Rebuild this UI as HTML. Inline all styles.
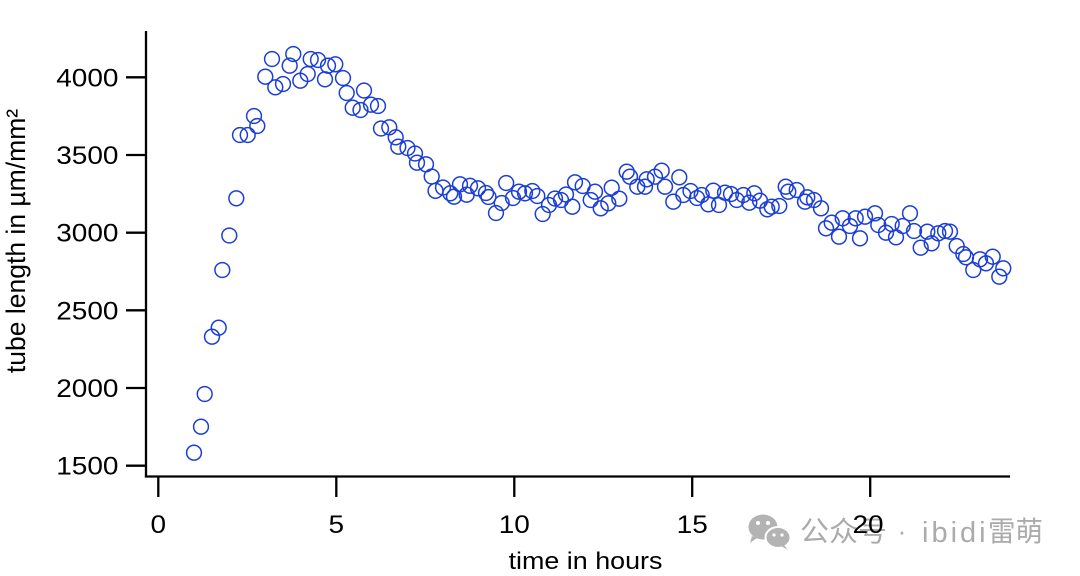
<!DOCTYPE html>
<html>
<head>
<meta charset="utf-8">
<style>
html,body{margin:0;padding:0;background:#fff;}
svg{display:block;}
text{font-family:"Liberation Sans",Arial,sans-serif;fill:#000;}
.wm{font-family:"Liberation Sans","Noto Sans CJK SC",sans-serif;fill:#ababab;}
</style>
</head>
<body>
<svg width="1080" height="576" viewBox="0 0 1080 576" xmlns="http://www.w3.org/2000/svg">
<rect width="1080" height="576" fill="#fff"/>

<g>
  <ellipse cx="763" cy="527" rx="14.5" ry="12.5" fill="#b3b3b3"/>
  <path d="M752 536 L750 543 L757 538 Z" fill="#b3b3b3"/>
  <ellipse cx="778" cy="537.5" rx="12.5" ry="10.5" fill="#b3b3b3" stroke="#fff" stroke-width="2"/>
  <path d="M784 545 L788 550 L781 546 Z" fill="#b3b3b3"/>
  <circle cx="758" cy="523" r="2" fill="#fff"/>
  <circle cx="768" cy="523" r="2" fill="#fff"/>
  <circle cx="774" cy="535" r="1.6" fill="#fff"/>
  <circle cx="782" cy="535" r="1.6" fill="#fff"/>
  <text class="wm" x="800" y="541" font-size="28" textLength="87" lengthAdjust="spacingAndGlyphs">公众号</text>
  <text class="wm" x="902" y="540" font-size="26" text-anchor="middle">·</text>
  <text class="wm" x="922" y="542" font-size="29" letter-spacing="3">ibidi</text>
  <text class="wm" x="988" y="541" font-size="28" textLength="55" lengthAdjust="spacingAndGlyphs">雷萌</text>
</g>

<g stroke="#000" stroke-width="2.3" fill="none">
  <line x1="146" y1="31" x2="146" y2="477.5"/>
  <line x1="144.9" y1="476.5" x2="1010" y2="476.5"/>
  <line x1="126" y1="465.7" x2="146" y2="465.7"/>
  <line x1="126" y1="388.0" x2="146" y2="388.0"/>
  <line x1="126" y1="310.3" x2="146" y2="310.3"/>
  <line x1="126" y1="232.7" x2="146" y2="232.7"/>
  <line x1="126" y1="155.0" x2="146" y2="155.0"/>
  <line x1="126" y1="77.3" x2="146" y2="77.3"/>
  <line x1="158.3" y1="476.5" x2="158.3" y2="497"/>
  <line x1="336.3" y1="476.5" x2="336.3" y2="497"/>
  <line x1="514.3" y1="476.5" x2="514.3" y2="497"/>
  <line x1="692.2" y1="476.5" x2="692.2" y2="497"/>
  <line x1="870.2" y1="476.5" x2="870.2" y2="497"/>
</g>

<g font-size="25" text-anchor="end">
  <text transform="translate(118.5,474.7) scale(1.12,1)">1500</text>
  <text transform="translate(118.5,397.0) scale(1.12,1)">2000</text>
  <text transform="translate(118.5,319.3) scale(1.12,1)">2500</text>
  <text transform="translate(118.5,241.7) scale(1.12,1)">3000</text>
  <text transform="translate(118.5,164.0) scale(1.12,1)">3500</text>
  <text transform="translate(118.5,86.3) scale(1.12,1)">4000</text>
</g>

<g font-size="25" text-anchor="middle">
  <text transform="translate(158.3,533) scale(1.12,1)">0</text>
  <text transform="translate(336.3,533) scale(1.12,1)">5</text>
  <text transform="translate(514.3,533) scale(1.12,1)">10</text>
  <text transform="translate(692.2,533) scale(1.12,1)">15</text>
  <text transform="translate(868,533) scale(1.12,1)">20</text>
</g>

<text font-size="24" text-anchor="middle" transform="translate(585.5,569) scale(1.12,1)">time in hours</text>
<text font-size="26.5" text-anchor="middle" transform="translate(25,241) rotate(-90)">tube length in µm/mm²</text>

<g fill="none" stroke="#1b3ed6" stroke-width="1.5">
<circle cx="194" cy="452.7" r="7.4"/>
<circle cx="201" cy="426.7" r="7.4"/>
<circle cx="204.7" cy="394" r="7.4"/>
<circle cx="212" cy="336.7" r="7.4"/>
<circle cx="218.7" cy="327.7" r="7.4"/>
<circle cx="222.3" cy="270" r="7.4"/>
<circle cx="229.3" cy="235.5" r="7.4"/>
<circle cx="236.3" cy="198.3" r="7.4"/>
<circle cx="240" cy="135" r="7.4"/>
<circle cx="247.7" cy="135" r="7.4"/>
<circle cx="254" cy="116" r="7.4"/>
<circle cx="257.3" cy="126" r="7.4"/>
<circle cx="265.3" cy="76.7" r="7.4"/>
<circle cx="272" cy="59" r="7.4"/>
<circle cx="275.3" cy="87.3" r="7.4"/>
<circle cx="283" cy="84" r="7.4"/>
<circle cx="289.7" cy="65.7" r="7.4"/>
<circle cx="293.3" cy="54" r="7.4"/>
<circle cx="300.3" cy="80.7" r="7.4"/>
<circle cx="307.7" cy="74" r="7.4"/>
<circle cx="310.7" cy="59" r="7.4"/>
<circle cx="318" cy="60" r="7.4"/>
<circle cx="325" cy="79.3" r="7.4"/>
<circle cx="328" cy="65.7" r="7.4"/>
<circle cx="335.3" cy="64.3" r="7.4"/>
<circle cx="343" cy="78" r="7.4"/>
<circle cx="346.7" cy="93" r="7.4"/>
<circle cx="352.7" cy="107.7" r="7.4"/>
<circle cx="360.5" cy="110" r="7.4"/>
<circle cx="364" cy="90.5" r="7.4"/>
<circle cx="371" cy="104.7" r="7.4"/>
<circle cx="378" cy="106" r="7.4"/>
<circle cx="381" cy="128.5" r="7.4"/>
<circle cx="389.3" cy="127.3" r="7.4"/>
<circle cx="395.7" cy="137.3" r="7.4"/>
<circle cx="398.3" cy="146.7" r="7.4"/>
<circle cx="407.5" cy="148" r="7.4"/>
<circle cx="415" cy="153.5" r="7.4"/>
<circle cx="417" cy="162.7" r="7.4"/>
<circle cx="426" cy="164.3" r="7.4"/>
<circle cx="431.7" cy="176.5" r="7.4"/>
<circle cx="435.5" cy="190.8" r="7.4"/>
<circle cx="443" cy="187.5" r="7.4"/>
<circle cx="450.3" cy="193.3" r="7.4"/>
<circle cx="454" cy="196.7" r="7.4"/>
<circle cx="460" cy="184.3" r="7.4"/>
<circle cx="466.7" cy="194.7" r="7.4"/>
<circle cx="470" cy="185.8" r="7.4"/>
<circle cx="478" cy="188.3" r="7.4"/>
<circle cx="486" cy="193" r="7.4"/>
<circle cx="488.5" cy="197" r="7.4"/>
<circle cx="496" cy="213" r="7.4"/>
<circle cx="501.7" cy="203" r="7.4"/>
<circle cx="506.2" cy="183" r="7.4"/>
<circle cx="513" cy="198" r="7.4"/>
<circle cx="519" cy="191.7" r="7.4"/>
<circle cx="525" cy="193.3" r="7.4"/>
<circle cx="532.3" cy="191" r="7.4"/>
<circle cx="537.3" cy="196" r="7.4"/>
<circle cx="542.7" cy="214" r="7.4"/>
<circle cx="549" cy="205" r="7.4"/>
<circle cx="555" cy="198.5" r="7.4"/>
<circle cx="561" cy="200" r="7.4"/>
<circle cx="566" cy="194.5" r="7.4"/>
<circle cx="572.3" cy="206.7" r="7.4"/>
<circle cx="575" cy="182.3" r="7.4"/>
<circle cx="582.7" cy="186" r="7.4"/>
<circle cx="590.7" cy="200" r="7.4"/>
<circle cx="595" cy="191.7" r="7.4"/>
<circle cx="600.7" cy="208.3" r="7.4"/>
<circle cx="608.3" cy="203.3" r="7.4"/>
<circle cx="611.7" cy="187.7" r="7.4"/>
<circle cx="619.3" cy="198.7" r="7.4"/>
<circle cx="626.7" cy="171.7" r="7.4"/>
<circle cx="630" cy="176.7" r="7.4"/>
<circle cx="637.3" cy="186.7" r="7.4"/>
<circle cx="645" cy="186.7" r="7.4"/>
<circle cx="646.7" cy="179.3" r="7.4"/>
<circle cx="655" cy="176.7" r="7.4"/>
<circle cx="661.7" cy="170.7" r="7.4"/>
<circle cx="665" cy="186.7" r="7.4"/>
<circle cx="673.3" cy="201.7" r="7.4"/>
<circle cx="679.3" cy="177.3" r="7.4"/>
<circle cx="683.3" cy="195" r="7.4"/>
<circle cx="690.5" cy="191" r="7.4"/>
<circle cx="697" cy="198" r="7.4"/>
<circle cx="701.7" cy="195" r="7.4"/>
<circle cx="708.3" cy="204.3" r="7.4"/>
<circle cx="713.3" cy="190.7" r="7.4"/>
<circle cx="719" cy="205" r="7.4"/>
<circle cx="725" cy="192.7" r="7.4"/>
<circle cx="731" cy="194" r="7.4"/>
<circle cx="736.7" cy="200" r="7.4"/>
<circle cx="743.3" cy="195" r="7.4"/>
<circle cx="749.3" cy="202.7" r="7.4"/>
<circle cx="754.3" cy="193.3" r="7.4"/>
<circle cx="760" cy="200.7" r="7.4"/>
<circle cx="767.3" cy="209.3" r="7.4"/>
<circle cx="771.7" cy="206.7" r="7.4"/>
<circle cx="779.3" cy="206" r="7.4"/>
<circle cx="785.7" cy="186.7" r="7.4"/>
<circle cx="788.3" cy="191.7" r="7.4"/>
<circle cx="796.7" cy="190" r="7.4"/>
<circle cx="805" cy="201.7" r="7.4"/>
<circle cx="807.3" cy="197.3" r="7.4"/>
<circle cx="814" cy="200" r="7.4"/>
<circle cx="821" cy="208.3" r="7.4"/>
<circle cx="826" cy="228.3" r="7.4"/>
<circle cx="831.7" cy="222.7" r="7.4"/>
<circle cx="839" cy="236.7" r="7.4"/>
<circle cx="842.7" cy="218.3" r="7.4"/>
<circle cx="850" cy="226" r="7.4"/>
<circle cx="855.7" cy="218.3" r="7.4"/>
<circle cx="860" cy="238.3" r="7.4"/>
<circle cx="865" cy="216.7" r="7.4"/>
<circle cx="875" cy="213.3" r="7.4"/>
<circle cx="878.3" cy="225" r="7.4"/>
<circle cx="886" cy="232.7" r="7.4"/>
<circle cx="891.7" cy="224" r="7.4"/>
<circle cx="896" cy="237.3" r="7.4"/>
<circle cx="902.7" cy="226" r="7.4"/>
<circle cx="910" cy="213.3" r="7.4"/>
<circle cx="914" cy="231" r="7.4"/>
<circle cx="920.7" cy="247.7" r="7.4"/>
<circle cx="927.3" cy="231.7" r="7.4"/>
<circle cx="931.7" cy="243.3" r="7.4"/>
<circle cx="938.3" cy="233.3" r="7.4"/>
<circle cx="945" cy="231" r="7.4"/>
<circle cx="950" cy="231.7" r="7.4"/>
<circle cx="956.7" cy="246" r="7.4"/>
<circle cx="963.3" cy="254" r="7.4"/>
<circle cx="966" cy="257.3" r="7.4"/>
<circle cx="973.3" cy="270" r="7.4"/>
<circle cx="980" cy="259.3" r="7.4"/>
<circle cx="986" cy="263.3" r="7.4"/>
<circle cx="992.7" cy="256.7" r="7.4"/>
<circle cx="999.3" cy="276.7" r="7.4"/>
<circle cx="1003.3" cy="268.3" r="7.4"/>
</g>
</svg>
</body>
</html>
